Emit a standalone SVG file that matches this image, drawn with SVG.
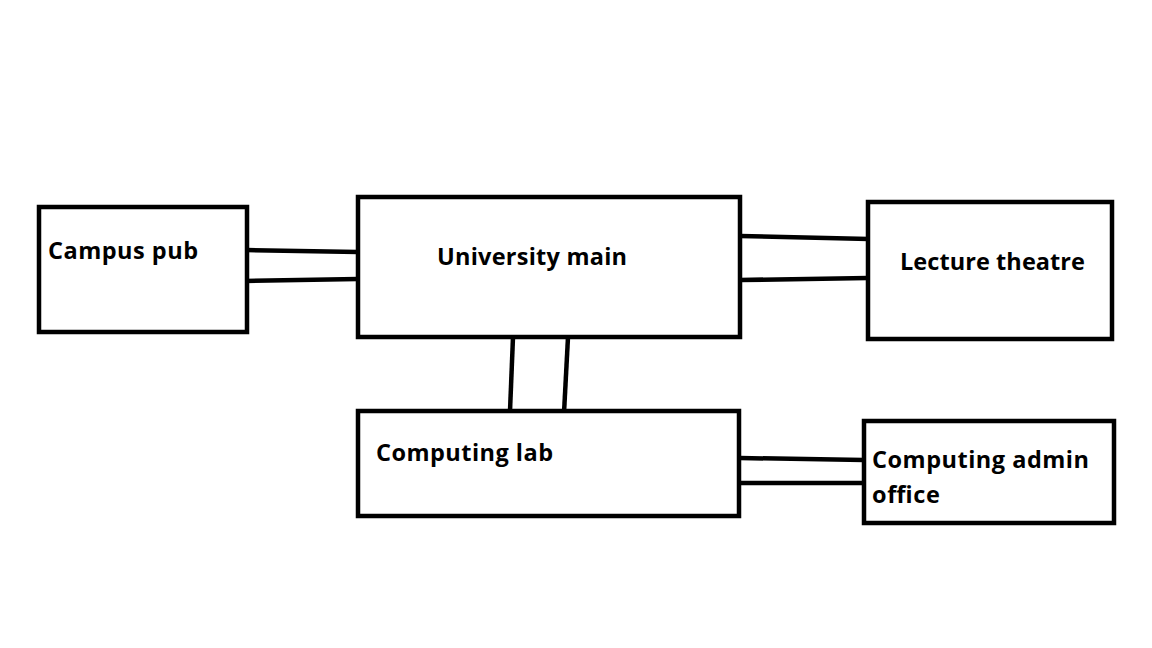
<svg xmlns="http://www.w3.org/2000/svg" width="1152" height="648" viewBox="0 0 1152 648">
<style>
.box{fill:#fff;stroke:#000;stroke-width:4.5}
.ln{stroke:#000;stroke-width:4.5;fill:none}
.t{font-family:"Open Sans","Noto Sans","DejaVu Sans",sans-serif;font-weight:bold;font-size:23.5px;fill:#000}
</style>
<rect width="1152" height="648" fill="#fff"/>
<g id="connectors">
<line class="ln" x1="247" y1="250" x2="358" y2="252"/>
<line class="ln" x1="245" y1="281" x2="358" y2="279"/>
<line class="ln" x1="740" y1="236" x2="869" y2="239"/>
<line class="ln" x1="740" y1="280" x2="868" y2="278"/>
<line class="ln" x1="513" y1="337" x2="510" y2="411"/>
<line class="ln" x1="568" y1="337" x2="564" y2="413"/>
<line class="ln" x1="740" y1="458" x2="864" y2="460"/>
<line class="ln" x1="740" y1="483" x2="864" y2="483"/>
</g>
<g id="campus-pub">
<rect class="box" x="39" y="207" width="208" height="125"/>
<text class="t" x="48" y="259" textLength="150">Campus pub</text>
</g>
<g id="university-main">
<rect class="box" x="358" y="197" width="382" height="140"/>
<text class="t" x="437" y="265" textLength="190">University main</text>
</g>
<g id="lecture-theatre">
<rect class="box" x="868" y="202" width="244" height="137"/>
<text class="t" x="900" y="270" textLength="185">Lecture theatre</text>
</g>
<g id="computing-lab">
<rect class="box" x="358" y="411" width="381" height="105"/>
<text class="t" x="376" y="461" textLength="177">Computing lab</text>
</g>
<g id="computing-admin-office">
<rect class="box" x="864" y="421" width="250" height="102"/>
<text class="t" x="872" y="468" textLength="217">Computing admin</text>
<text class="t" x="872" y="503" textLength="68">office</text>
</g>
</svg>
